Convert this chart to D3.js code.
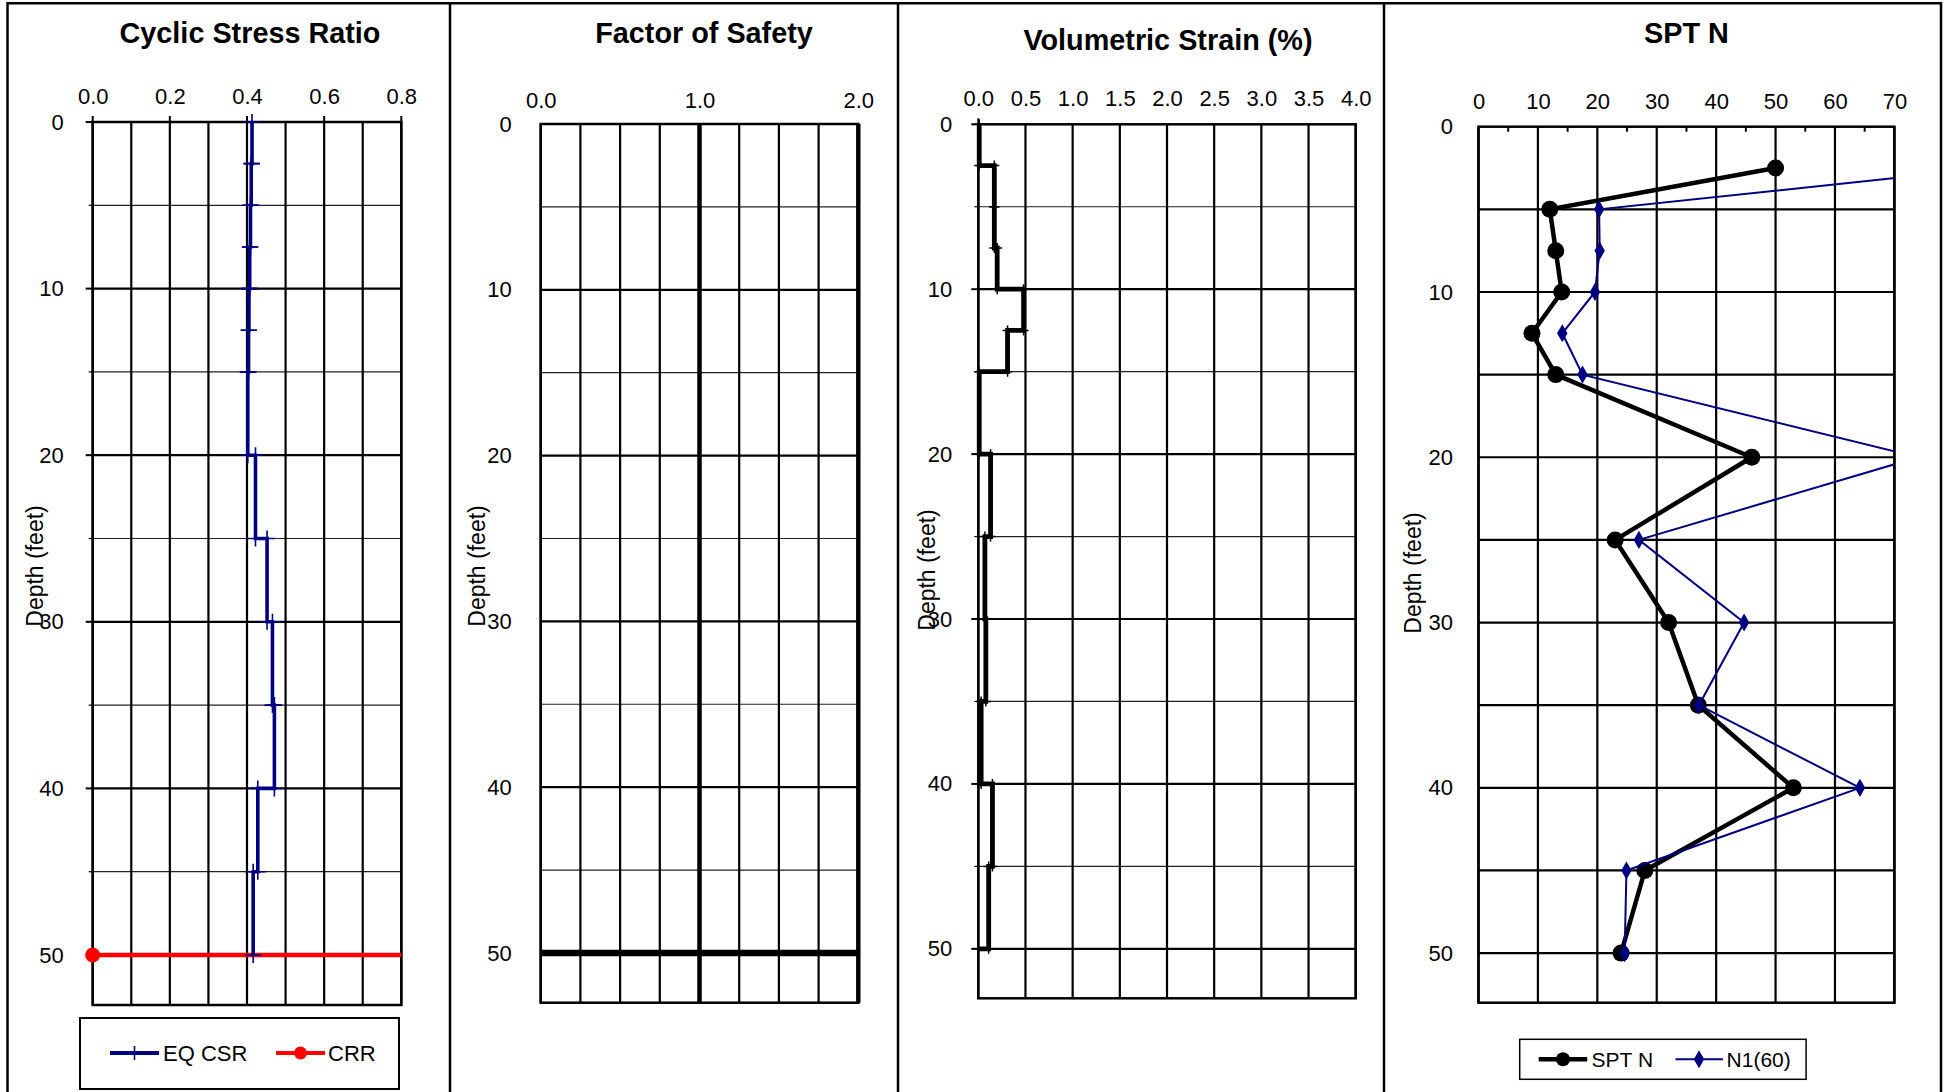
<!DOCTYPE html>
<html><head><meta charset="utf-8">
<script src="https://cdn.jsdelivr.net/npm/d3@7"></script>
<style>
html,body{margin:0;padding:0;background:#fff;}
svg{display:block;font-family:"Liberation Sans",Arial,sans-serif;}
</style></head><body>
<svg id="c" width="1952" height="1092"></svg>
<script>
// ---------------- data ----------------
const layerTop    = [0, 2.5, 5, 7.5, 10, 12.5, 15, 20, 25, 30, 35, 40, 45];
const layerBottom = [2.5, 5, 7.5, 10, 12.5, 15, 20, 25, 30, 35, 40, 45, 50];
const eqCsr       = [0.413, 0.411, 0.409, 0.407, 0.405, 0.404, 0.402, 0.422, 0.452, 0.466, 0.471, 0.428, 0.416];
const crrValue    = [0, 2];
const crrDepth    = [50, 50];
const fsValue     = [0, 2];
const fsDepth     = [50, 50];
const volStrain   = [0.01, 0.17, 0.17, 0.20, 0.48, 0.31, 0.01, 0.13, 0.07, 0.08, 0.03, 0.15, 0.11];
const volStrainEnd = 0;
const sptDepth    = [2.5, 5, 7.5, 10, 12.5, 15, 20, 25, 30, 35, 40, 45, 50];
const sptN        = [50, 12, 13, 14, 9, 13, 46, 23, 32, 37, 53, 28, 24];
const n160        = [86, 20.3, 20.4, 19.6, 14.1, 17.5, 74, 27, 44.7, 37.1, 64.2, 24.9, 24.6];
const depthTicks  = [0, 10, 20, 30, 40, 50];
const csrTicks    = [0, 0.2, 0.4, 0.6, 0.8];
const fsTicks     = [0, 1, 2];
const volTicks    = [0, 0.5, 1, 1.5, 2, 2.5, 3, 3.5, 4];
const sptTicks    = [0, 10, 20, 30, 40, 50, 60, 70];
const titles      = ["Cyclic Stress Ratio", "Factor of Safety", "Volumetric Strain (%)", "SPT N"];
const yLabel      = "Depth (feet)";

// ---------------- layout ----------------
const svg = d3.select("#c");
const FONT = "'Liberation Sans', Arial, sans-serif";
const NAVY = "#000080";

// outer frame
const frameX = [7.5, 450, 898, 1384, 1941];
svg.append("line").attr("x1", frameX[0]).attr("x2", frameX[4]).attr("y1", 3.3).attr("y2", 3.3)
  .attr("stroke", "#000").attr("stroke-width", 2.5);
frameX.forEach(x => svg.append("line").attr("x1", x).attr("x2", x).attr("y1", 2).attr("y2", 1092)
  .attr("stroke", "#000").attr("stroke-width", 2.5));

function stepPoints(vals, tops, bottoms) {
  const pts = [];
  vals.forEach((v, i) => { pts.push([v, tops[i]]); pts.push([v, bottoms[i]]); });
  return pts;
}

function makePanel(cfg) {
  const g = svg.append("g");
  const x = d3.scaleLinear().domain(cfg.xDomain).range([cfg.l, cfg.r]);
  const y = d3.scaleLinear().domain([0, 53]).range([cfg.t, cfg.b]);
  const clipId = "clip" + cfg.id;
  svg.append("clipPath").attr("id", clipId).append("rect")
    .attr("x", cfg.l).attr("y", cfg.t).attr("width", cfg.r - cfg.l).attr("height", cfg.b - cfg.t);

  // title
  g.append("text").attr("x", cfg.titleX).attr("y", cfg.titleY).attr("text-anchor", "middle")
    .attr("font-size", 28.8).attr("font-weight", "bold").attr("fill", "#000").text(cfg.title);

  // horizontal grid
  d3.range(5, 51, 5).forEach(d => {
    const major = d % 10 === 0;
    g.append("line").attr("x1", cfg.l).attr("x2", cfg.r).attr("y1", y(d)).attr("y2", y(d))
      .attr("stroke", major || cfg.allMajor ? "#000" : "#222")
      .attr("stroke-width", major || cfg.allMajor ? 2.2 : 1.2);
    if (cfg.yTickOut) {
      g.append("line").attr("x1", cfg.l - (major ? 7 : 4)).attr("x2", cfg.l).attr("y1", y(d)).attr("y2", y(d))
        .attr("stroke", "#000").attr("stroke-width", major ? 2 : 1.2);
    }
  });
  if (cfg.yTickOut) {
    g.append("line").attr("x1", cfg.l - 7).attr("x2", cfg.l).attr("y1", y(0)).attr("y2", y(0))
      .attr("stroke", "#000").attr("stroke-width", 2);
  }
  // vertical grid
  cfg.grid.forEach(v => {
    g.append("line").attr("x1", x(v)).attr("x2", x(v)).attr("y1", cfg.t).attr("y2", cfg.b)
      .attr("stroke", "#000").attr("stroke-width", (cfg.thickX || []).includes(v) ? 4 : 2.2);
  });
  // frame
  g.append("rect").attr("x", cfg.l).attr("y", cfg.t).attr("width", cfg.r - cfg.l).attr("height", cfg.b - cfg.t)
    .attr("fill", "none").attr("stroke", "#000").attr("stroke-width", 2.5);
  (cfg.thickX || []).forEach(v => g.append("line").attr("x1", x(v)).attr("x2", x(v)).attr("y1", cfg.t).attr("y2", cfg.b)
      .attr("stroke", "#000").attr("stroke-width", 4));

  // top tick marks
  (cfg.topTickVals || []).forEach(v => {
    g.append("line").attr("x1", x(v)).attr("x2", x(v)).attr("y1", cfg.t - 6).attr("y2", cfg.t)
      .attr("stroke", "#000").attr("stroke-width", 2);
  });
  (cfg.minorTopTicks || []).forEach(v => {
    g.append("line").attr("x1", x(v)).attr("x2", x(v)).attr("y1", cfg.t).attr("y2", cfg.t + 5)
      .attr("stroke", "#000").attr("stroke-width", 2);
  });

  // axes (labels only)
  const ax = g.append("g").attr("transform", `translate(0,${cfg.t})`)
    .call(d3.axisTop(x).tickValues(cfg.xTicks).tickFormat(cfg.fmt).tickSize(0).tickPadding(cfg.xPad));
  ax.select(".domain").remove();
  ax.selectAll("text").attr("font-size", 22).attr("font-family", FONT).attr("fill", "#000");

  const ay = g.append("g").attr("transform", `translate(${cfg.l},0)`)
    .call(d3.axisLeft(y).tickValues(depthTicks).tickFormat(d3.format("d")).tickSize(0).tickPadding(cfg.yPad));
  ay.select(".domain").remove();
  ay.selectAll("text").attr("font-size", 22).attr("font-family", FONT).attr("fill", "#000");

  // y label
  g.append("text").attr("transform", `translate(${cfg.yLabelX},${cfg.yLabelY}) rotate(-90)`)
    .attr("text-anchor", "middle").attr("dy", "0.35em").attr("font-size", 23).attr("fill", "#000").text(yLabel);

  const plot = g.append("g").attr("clip-path", `url(#${clipId})`);
  return { g, x, y, plot };
}

function plusMarks(sel, pts, x, y, half, color, sw) {
  sel.selectAll(null).data(pts).enter().append("path")
    .attr("d", p => `M${x(p[0]) - half},${y(p[1])}H${x(p[0]) + half}M${x(p[0])},${y(p[1]) - half}V${y(p[1]) + half}`)
    .attr("stroke", color).attr("stroke-width", sw).attr("fill", "none");
}

// ---------- Panel 1 : CSR ----------
const p1 = makePanel({
  id: 1, l: 92.7, t: 122, r: 401.3, b: 1005, xDomain: [0, 0.8],
  title: titles[0], titleX: 250, titleY: 43,
  grid: d3.range(0, 0.8001, 0.1).map(v => +v.toFixed(2)),
  xTicks: csrTicks, fmt: d3.format(".1f"), xPad: 18, yPad: 29,
  yTickOut: true, topTickVals: csrTicks,
  yLabelX: 35, yLabelY: 566
});
{
  const { x, y, plot, g } = p1;
  const pts = stepPoints(eqCsr, layerTop, layerBottom);
  const line = d3.line().x(p => x(p[0])).y(p => y(p[1]));
  g.append("path").attr("d", line(pts)).attr("fill", "none").attr("stroke", NAVY).attr("stroke-width", 3.6);
  plusMarks(g, pts, x, y, 8, NAVY, 1.6);
  const crr = crrValue.map((v, i) => [v, crrDepth[i]]);
  plot.append("path").attr("d", line(crr)).attr("fill", "none").attr("stroke", "#ff0000").attr("stroke-width", 4.5);
  g.selectAll(null).data(crr.filter(p => p[0] <= 0.8)).enter().append("circle")
    .attr("cx", p => x(p[0])).attr("cy", p => y(p[1])).attr("r", 7.5).attr("fill", "#ff0000");

  // legend
  const lg = svg.append("g");
  lg.append("rect").attr("x", 80).attr("y", 1018).attr("width", 319).attr("height", 71)
    .attr("fill", "#fff").attr("stroke", "#000").attr("stroke-width", 2);
  lg.append("line").attr("x1", 110).attr("x2", 159).attr("y1", 1053).attr("y2", 1053).attr("stroke", NAVY).attr("stroke-width", 4);
  lg.append("line").attr("x1", 134.5).attr("x2", 134.5).attr("y1", 1046).attr("y2", 1060).attr("stroke", NAVY).attr("stroke-width", 1.6);
  lg.append("text").attr("x", 163).attr("y", 1061).attr("font-size", 22).text("EQ CSR");
  lg.append("line").attr("x1", 276).attr("x2", 325).attr("y1", 1053).attr("y2", 1053).attr("stroke", "#ff0000").attr("stroke-width", 4);
  lg.append("circle").attr("cx", 300.5).attr("cy", 1053).attr("r", 6.5).attr("fill", "#ff0000");
  lg.append("text").attr("x", 328).attr("y", 1061).attr("font-size", 22).text("CRR");
}

// ---------- Panel 2 : FS ----------
const p2 = makePanel({
  id: 2, l: 540.7, t: 124, r: 858.3, b: 1002.7, xDomain: [0, 2],
  title: titles[1], titleX: 704, titleY: 43,
  grid: d3.range(0, 2.001, 0.25), thickX: [1, 2],
  xTicks: fsTicks, fmt: d3.format(".1f"), xPad: 16.5, yPad: 29,
  yTickOut: false,
  yLabelX: 477, yLabelY: 566
});
{
  const { x, y, plot } = p2;
  const line = d3.line().x(p => x(p[0])).y(p => y(p[1]));
  const fs = fsValue.map((v, i) => [v, fsDepth[i]]);
  plot.append("path").attr("d", line(fs)).attr("fill", "none").attr("stroke", "#000").attr("stroke-width", 6.5);
}

// ---------- Panel 3 : Volumetric strain ----------
const p3 = makePanel({
  id: 3, l: 978.3, t: 124.3, r: 1355.7, b: 998.3, xDomain: [0, 4],
  title: titles[2], titleX: 1168, titleY: 50,
  grid: d3.range(0, 4.001, 0.5),
  xTicks: volTicks, fmt: d3.format(".1f"), xPad: 18.5, yPad: 26,
  yTickOut: true, topTickVals: [0],
  yLabelX: 927, yLabelY: 570
});
{
  const { x, y, g } = p3;
  const pts = stepPoints(volStrain, layerTop, layerBottom);
  pts.push([volStrainEnd, layerBottom[layerBottom.length - 1]]);
  const line = d3.line().x(p => x(p[0])).y(p => y(p[1]));
  g.append("path").attr("d", line(pts)).attr("fill", "none").attr("stroke", "#000").attr("stroke-width", 4.8);
  plusMarks(g, pts, x, y, 5, "#000", 1.5);
}

// ---------- Panel 4 : SPT N ----------
const p4 = makePanel({
  id: 4, l: 1478.5, t: 126.7, r: 1894.4, b: 1002.7, xDomain: [0, 70],
  title: titles[3], titleX: 1686.5, titleY: 43,
  grid: d3.range(0, 70.001, 10), allMajor: true,
  xTicks: sptTicks, fmt: d3.format("d"), xPad: 17.5, yPad: 25.5,
  yTickOut: false, minorTopTicks: d3.range(5, 70, 10),
  yLabelX: 1413, yLabelY: 573
});
{
  const { x, y, plot } = p4;
  const line = d3.line().x(p => x(p[0])).y(p => y(p[1]));
  const spt = sptN.map((v, i) => [v, sptDepth[i]]);
  const n1 = n160.map((v, i) => [v, sptDepth[i]]);
  plot.append("path").attr("d", line(spt)).attr("fill", "none").attr("stroke", "#000").attr("stroke-width", 4.5);
  plot.selectAll(null).data(spt).enter().append("circle")
    .attr("cx", p => x(p[0])).attr("cy", p => y(p[1])).attr("r", 8.5).attr("fill", "#000");
  plot.append("path").attr("d", line(n1)).attr("fill", "none").attr("stroke", NAVY).attr("stroke-width", 2);
  const dia = d3.symbol().type(d3.symbolDiamond).size(95);
  plot.selectAll(null).data(n1).enter().append("path")
    .attr("transform", p => `translate(${x(p[0])},${y(p[1])})`).attr("d", dia).attr("fill", NAVY);

  const lg = svg.append("g");
  lg.append("rect").attr("x", 1519.7).attr("y", 1039.3).attr("width", 286.4).attr("height", 40)
    .attr("fill", "#fff").attr("stroke", "#000").attr("stroke-width", 1.5);
  lg.append("line").attr("x1", 1538.7).attr("x2", 1587.2).attr("y1", 1059.3).attr("y2", 1059.3).attr("stroke", "#000").attr("stroke-width", 4.5);
  lg.append("circle").attr("cx", 1563).attr("cy", 1059.3).attr("r", 7).attr("fill", "#000");
  lg.append("text").attr("x", 1591.6).attr("y", 1067).attr("font-size", 21).text("SPT N");
  lg.append("line").attr("x1", 1675.5).attr("x2", 1722.9).attr("y1", 1059.3).attr("y2", 1059.3).attr("stroke", NAVY).attr("stroke-width", 2);
  lg.append("path").attr("transform", "translate(1699,1059.3)").attr("d", dia).attr("fill", NAVY);
  lg.append("text").attr("x", 1726.6).attr("y", 1067).attr("font-size", 21).text("N1(60)");
}
</script>
</body></html>
